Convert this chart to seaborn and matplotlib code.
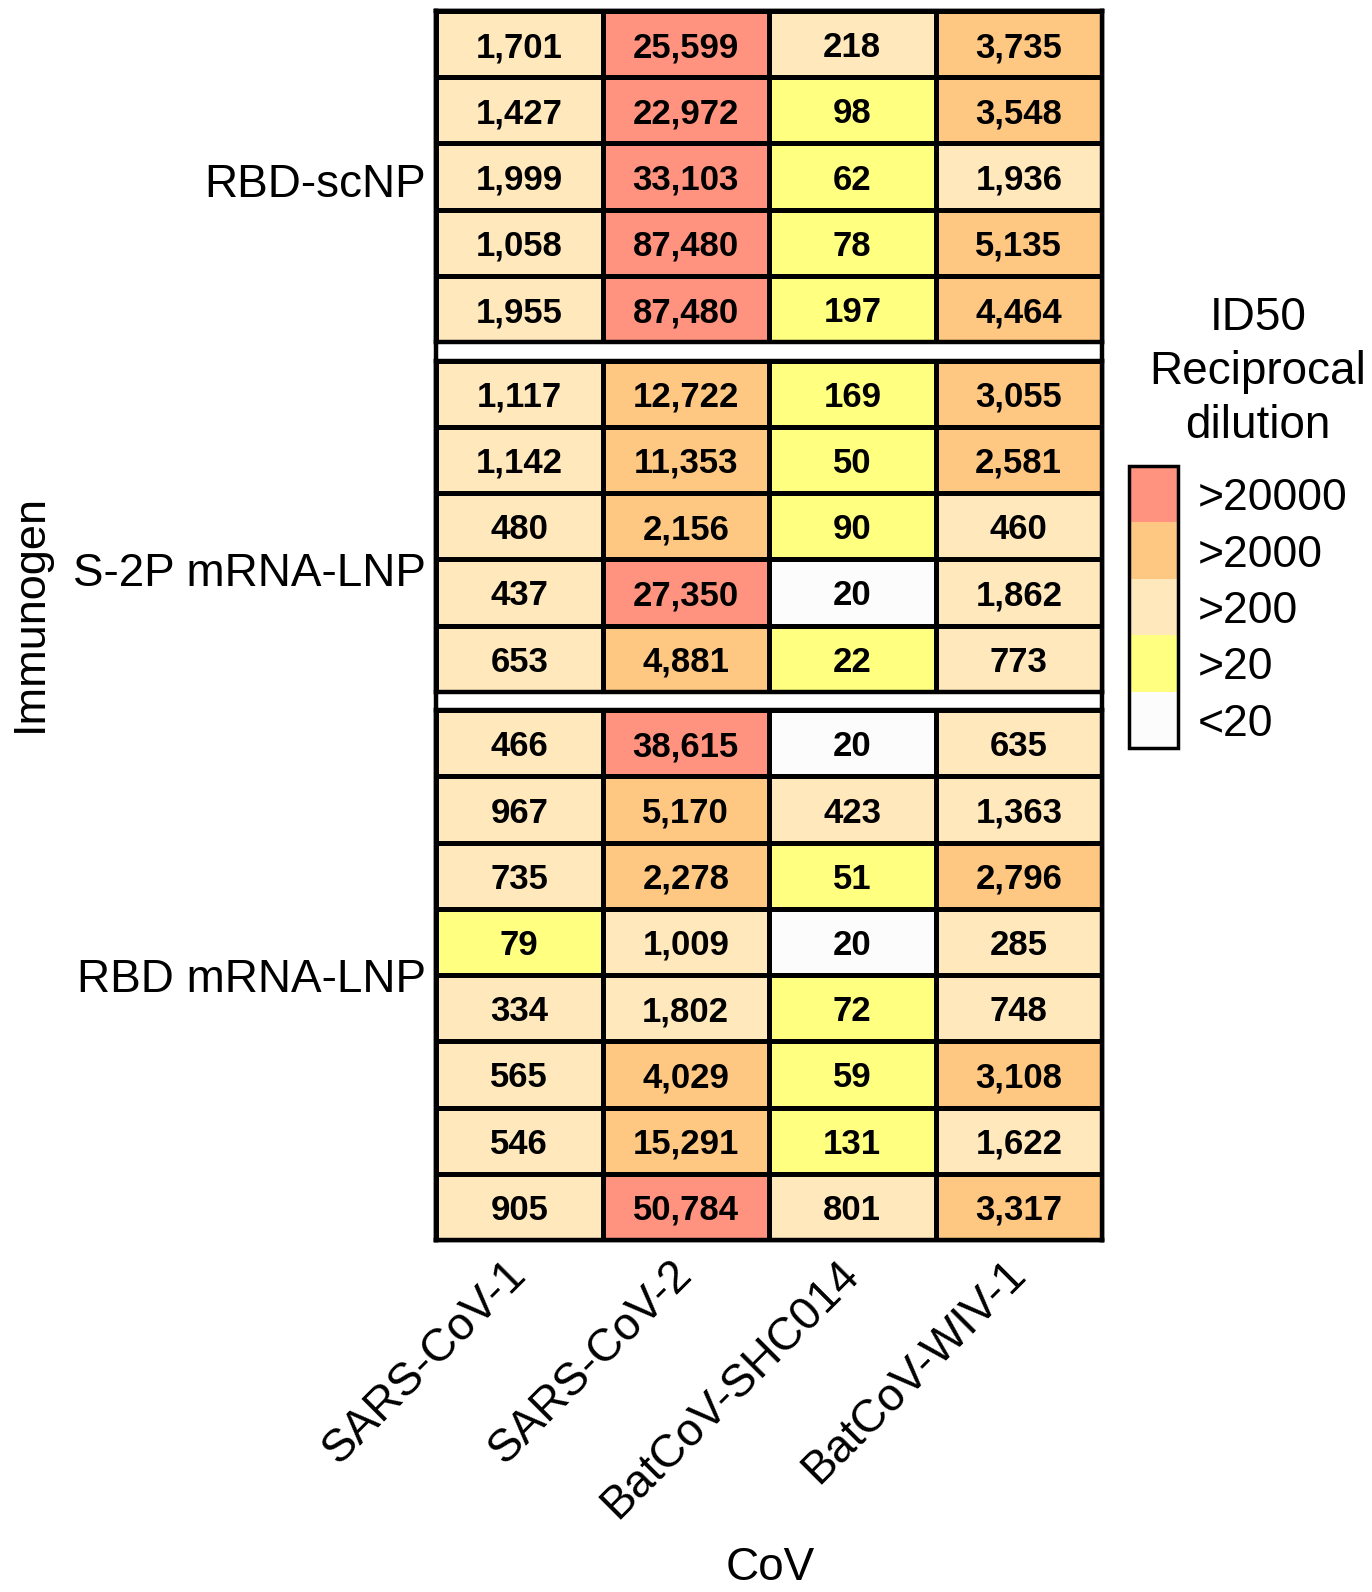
import numpy as np
import pandas as pd
import matplotlib
matplotlib.use("Agg")
import matplotlib.pyplot as plt
from matplotlib.colors import ListedColormap
import seaborn as sns

sns.set_style("white")
plt.rcParams['font.family'] = ['Liberation Sans', 'DejaVu Sans']
for k in ["text.color", "axes.labelcolor", "xtick.color", "ytick.color"]:
    plt.rcParams[k] = "black"

viruses = ["SARS-CoV-1", "SARS-CoV-2", "BatCoV-SHC014", "BatCoV-WIV-1"]
groups = ["RBD-scNP", "S-2P mRNA-LNP", "RBD mRNA-LNP"]

rbd_scnp = [
    [1701, 25599, 218, 3735],
    [1427, 22972, 98, 3548],
    [1999, 33103, 62, 1936],
    [1058, 87480, 78, 5135],
    [1955, 87480, 197, 4464],
]
s2p_mrna = [
    [1117, 12722, 169, 3055],
    [1142, 11353, 50, 2581],
    [480, 2156, 90, 460],
    [437, 27350, 20, 1862],
    [653, 4881, 22, 773],
]
rbd_mrna = [
    [466, 38615, 20, 635],
    [967, 5170, 423, 1363],
    [735, 2278, 51, 2796],
    [79, 1009, 20, 285],
    [334, 1802, 72, 748],
    [565, 4029, 59, 3108],
    [546, 15291, 131, 1622],
    [905, 50784, 801, 3317],
]
bin_edges = [21, 200, 2000, 20000]
bin_labels = ["<20", ">20", ">200", ">2000", ">20000"]
bin_colors = ["#FCFCFC", "#FFFF80", "#FFE8BC", "#FFC882", "#FF9380"]

cmap = ListedColormap(bin_colors)

W, H = 1372, 1592
fig = plt.figure(figsize=(W / 100, H / 100), dpi=100)

left_px, right_px = 436, 1102
top_px, bottom_px = 11, 1240
nrows_total = 18
gap_px = 18.5
row_px = (bottom_px - top_px - 2 * gap_px) / nrows_total

# background frame so that the outer border runs continuously through the gaps
bg = fig.add_axes([left_px / W, 1 - bottom_px / H, (right_px - left_px) / W,
                   (bottom_px - top_px) / H])
bg.set_xticks([])
bg.set_yticks([])
bg.set_facecolor("white")
for s in bg.spines.values():
    s.set_visible(True)
    s.set_linewidth(3.2)
    s.set_color("black")

cax = fig.add_axes([1129 / W, 1 - 748 / H, 49 / W, (748 - 466) / H])

label_y_px = [185, 574, 980]

datasets = [rbd_scnp, s2p_mrna, rbd_mrna]
y = top_px
axes = []
for gi, (name, data) in enumerate(zip(groups, datasets)):
    arr = np.array(data, dtype=float)
    n = arr.shape[0]
    h = n * row_px
    ax = fig.add_axes([left_px / W, 1 - (y + h) / H, (right_px - left_px) / W, h / H])
    bins = np.digitize(arr, bin_edges)
    df = pd.DataFrame(bins, columns=viruses)
    annot = np.vectorize(lambda v: f"{int(v):,}")(arr)
    last = gi == len(groups) - 1
    sns.heatmap(df, ax=ax, cmap=cmap, vmin=-0.5, vmax=4.5, annot=annot, fmt="",
                annot_kws={"fontsize": 25, "fontweight": "bold", "color": "black",
                           "va": "center_baseline"},
                linewidths=2.2, linecolor="black",
                cbar=last, cbar_ax=cax if last else None,
                cbar_kws={"ticks": [0, 1, 2, 3, 4]} if last else None)
    for s in ax.spines.values():
        s.set_visible(True)
        s.set_linewidth(3.2)
        s.set_color("black")
    ly = (label_y_px[gi] - y) / row_px
    ax.set_yticks([ly])
    ax.set_yticklabels([name], fontsize=33, rotation=0)
    ax.tick_params(axis="y", length=0, pad=7)
    ax.set_ylabel("")
    if last:
        ax.set_xticks(np.arange(4) + 0.5)
        ax.set_xticklabels(viruses, fontsize=33, rotation=45, ha="right",
                           va="center", rotation_mode="anchor")
        ax.tick_params(axis="x", length=0, pad=20)
        ax.set_xlabel("")
    else:
        ax.set_xticks([])
        ax.set_xlabel("")
    axes.append(ax)
    y += h + gap_px

cbar = axes[-1].collections[0].colorbar
cbar.set_ticks([0, 1, 2, 3, 4])
cbar.set_ticklabels(bin_labels)
cbar.ax.tick_params(labelsize=32, direction="in", length=3, width=2,
                    left=True, right=True, pad=14, colors="black")
cbar.outline.set_linewidth(2.5)
cbar.outline.set_edgecolor("black")

fig.text(1258 / W, 1 - 372 / H, "ID50\nReciprocal\ndilution", ha="center", va="center",
         fontsize=33, linespacing=1.3)
fig.text(30 / W, 1 - 613 / H, "Immunogen", rotation=90, ha="center", va="center",
         fontsize=32.5)
fig.text(770 / W, 1 - 1568 / H, "CoV", ha="center", va="center", fontsize=33)

fig.savefig("out.png", dpi=100)
